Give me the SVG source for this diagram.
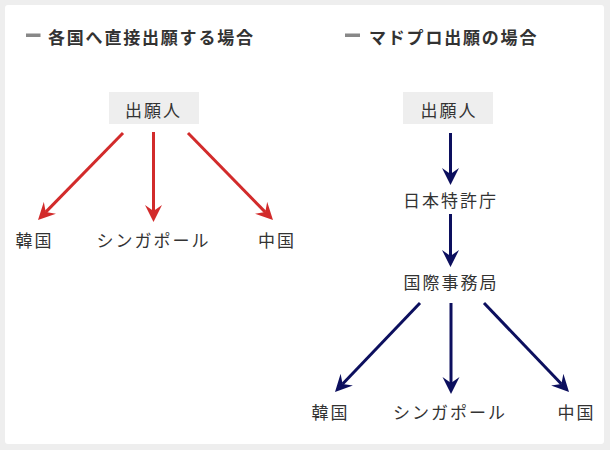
<svg xmlns="http://www.w3.org/2000/svg" width="610" height="450" viewBox="0 0 610 450">
  <style>
    .h { font-family: "Noto Sans CJK JP", "Noto Sans", sans-serif; font-size: 17px; font-weight: bold; fill: #333; letter-spacing: 1.8px; }
    .t { font-family: "Noto Sans CJK JP", "Noto Sans", sans-serif; font-size: 17px; fill: #333; letter-spacing: 2px; text-anchor: middle; }
    .box { fill: #eeeeee; }
    .red { stroke: #d22b2b; stroke-width: 3; fill: none; marker-end: url(#ah-red); }
    .navy { stroke: #0c0f5e; stroke-width: 3; fill: none; marker-end: url(#ah-navy); }
  </style>
  <defs>
    <marker id="ah-red" markerUnits="userSpaceOnUse" viewBox="0 -9 18 18" markerWidth="18" markerHeight="18" refX="6" refY="0" orient="auto">
      <path d="M0,-8.5 L17,0 L0,8.5 L6,0 Z" fill="#d22b2b"/>
    </marker>
    <marker id="ah-navy" markerUnits="userSpaceOnUse" viewBox="0 -9 18 18" markerWidth="18" markerHeight="18" refX="6" refY="0" orient="auto">
      <path d="M0,-8.5 L17,0 L0,8.5 L6,0 Z" fill="#0c0f5e"/>
    </marker>
  </defs>
  <rect x="0" y="0" width="610" height="450" fill="#eeeeee"/>
  <rect x="5" y="5" width="599" height="439" rx="3" fill="#ffffff"/>

  <g id="heading-left">
    <rect x="26" y="33.5" width="14.5" height="3.5" fill="#888888"/>
    <text class="h" x="48" y="44">各国へ直接出願する場合</text>
  </g>
  <g id="heading-right">
    <rect x="345" y="33.5" width="15" height="3.5" fill="#888888"/>
    <text class="h" x="369" y="44">マドプロ出願の場合</text>
  </g>

  <g id="left-applicant">
    <rect class="box" x="109" y="92" width="90" height="32"/>
    <text class="t" x="153.5" y="116.5">出願人</text>
  </g>
  <g id="left-korea"><text class="t" x="34.5" y="246.5">韓国</text></g>
  <g id="left-singapore"><text class="t" x="153.5" y="246.5">シンガポール</text></g>
  <g id="left-china"><text class="t" x="277" y="246.5">中国</text></g>

  <g id="right-applicant">
    <rect class="box" x="403" y="92" width="90" height="32"/>
    <text class="t" x="449" y="116.5">出願人</text>
  </g>
  <g id="right-jpo"><text class="t" x="450.5" y="206.5">日本特許庁</text></g>
  <g id="right-ib"><text class="t" x="451" y="288.5">国際事務局</text></g>
  <g id="right-korea"><text class="t" x="330.5" y="418.5">韓国</text></g>
  <g id="right-singapore"><text class="t" x="450" y="418.5">シンガポール</text></g>
  <g id="right-china"><text class="t" x="576.5" y="418.5">中国</text></g>

  <g id="connectors">
    <line class="red" x1="123" y1="133" x2="45.7" y2="212.1"/>
    <line class="red" x1="153.5" y1="132" x2="153.5" y2="211"/>
    <line class="red" x1="188" y1="133" x2="265.3" y2="212.1"/>
    <line class="navy" x1="450.5" y1="133" x2="450.5" y2="174"/>
    <line class="navy" x1="450.5" y1="214" x2="450.5" y2="256"/>
    <line class="navy" x1="420" y1="303" x2="342.6" y2="384"/>
    <line class="navy" x1="451" y1="303" x2="451" y2="383"/>
    <line class="navy" x1="484" y1="303" x2="561.4" y2="384"/>
  </g>
</svg>
